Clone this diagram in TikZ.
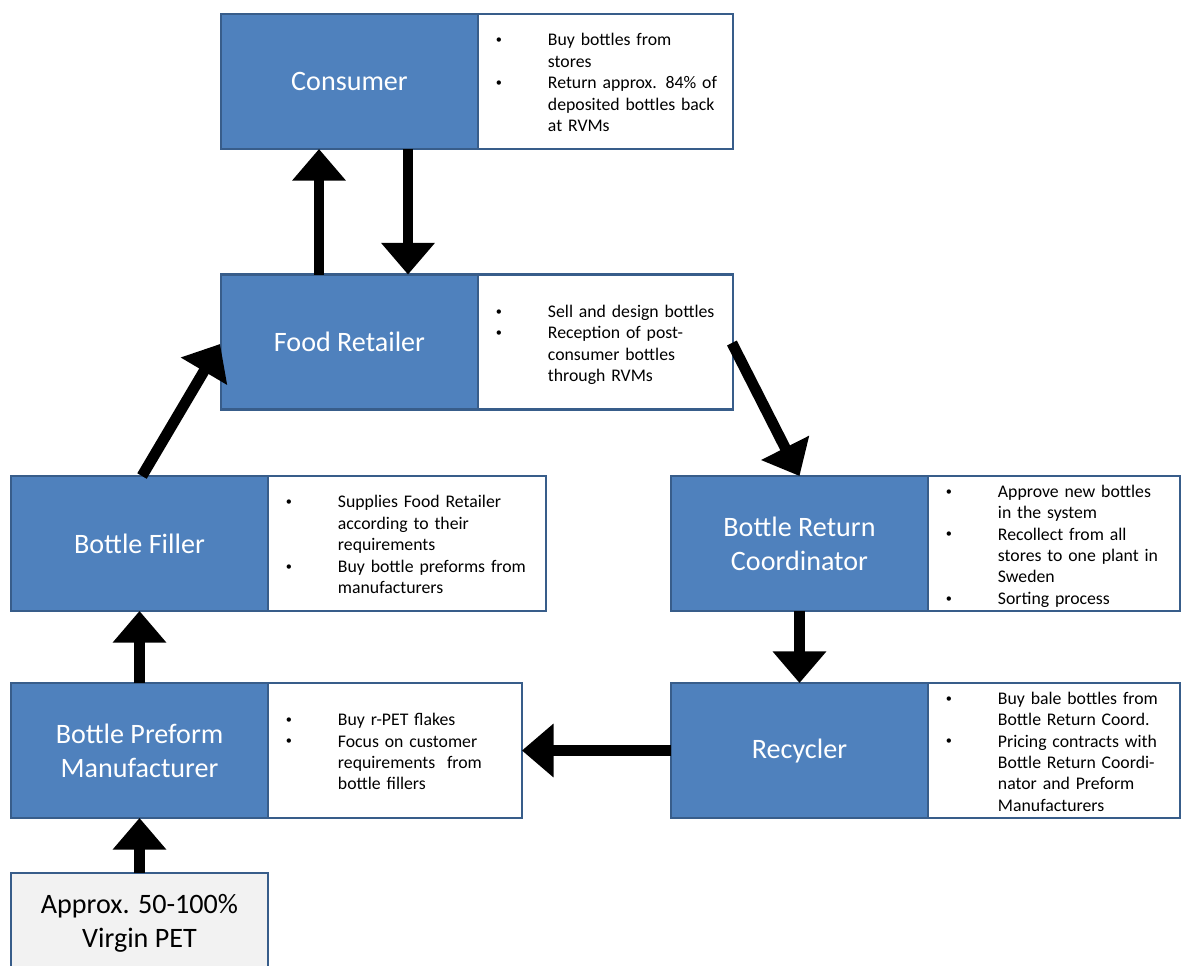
\documentclass[tikz,border=0pt]{standalone}
\usepackage{fontspec}
\setmainfont{Carlito}
\usetikzlibrary{arrows.meta}
\definecolor{boxblue}{HTML}{4F81BD}
\definecolor{edgeblue}{HTML}{385D8A}
\definecolor{lightgray}{HTML}{F2F2F2}
\newcommand{\bul}{\makebox[1.02cm][l]{\hspace{-0.02cm}\raisebox{1.2pt}{\fontsize{7}{7}\selectfont\textbullet}}}
\newcommand{\infolist}[1]{\fontsize{10.1}{12.2}\selectfont
  \raisebox{-0.06cm}[\height][\depth]{\begin{tabular}{@{\hspace{0.38cm}}l@{}l@{}}#1\end{tabular}}}
\tikzset{
  actor/.style={draw=edgeblue, line width=1.2pt, fill=boxblue, text=white,
    minimum width=5.14cm, minimum height=2.7cm, inner sep=0pt, outer sep=0pt,
    align=center, font=\fontsize{16}{19.3}\selectfont},
  info/.style={draw=edgeblue, line width=1.2pt, fill=white, anchor=west,
    minimum height=2.7cm, inner sep=0pt, outer sep=0pt, align=left},
  flow/.style={line width=6.2pt, -{Triangle[width=29.5pt, length=18pt]}}
}
\begin{document}
\begin{tikzpicture}[x=0.02cm, y=-0.02cm]
      \useasboundingbox (0,0) rectangle (1181,965);
      \node[actor] (consumer) at (349.5,81.5) {Consumer};
      \node[info, text width=5.1cm] (consumerinfo) at (consumer.east)
        {\infolist{\bul & Buy bottles from\\ & stores\\
          \bul & Return approx. 84\% of\\ & deposited bottles back\\ & at RVMs}};
      \node[actor] (retailer) at (349.5,342) {Food Retailer};
      \node[info, text width=5.1cm] (retailerinfo) at (retailer.east)
        {\infolist{\bul & Sell and design bottles\\
          \bul & Reception of post-\\ & consumer bottles\\ & through RVMs}};
      \node[actor] (filler) at (139.5,543.5) {Bottle Filler};
      \node[info, text width=5.56cm] (fillerinfo) at (filler.east)
        {\infolist{\bul & Supplies Food Retailer\\ & according to their\\ & requirements\\
          \bul & Buy bottle preforms from\\ & manufacturers}};
      \node[actor] (coordinator) at (799.5,543.5) {Bottle Return\\Coordinator};
      \node[info, text width=5.04cm] (coordinatorinfo) at (coordinator.east)
        {\infolist{\bul & Approve new bottles\\ & in the system\\
          \bul & Recollect from all\\ & stores to one plant in\\ & Sweden\\
          \bul & Sorting process}};
      \node[actor] (preform) at (139.5,750.5) {Bottle Preform\\Manufacturer};
      \node[info, text width=5.08cm] (preforminfo) at (preform.east)
        {\infolist{\bul & Buy r-PET flakes\\
          \bul & Focus on customer\\ & requirements\ \ from\\ & bottle fillers}};
      \node[actor] (recycler) at (799.5,750.5) {Recycler};
      \node[info, text width=5.04cm] (recyclerinfo) at (recycler.east)
        {\infolist{\bul & Buy bale bottles from\\ & Bottle Return Coord.\\
          \bul & Pricing contracts with\\ & Bottle Return Coordi-\\
          & nator and Preform\\ & Manufacturers}};
      \node[actor, fill=lightgray, text=black, minimum height=2cm] (virgin) at (139.5,923)
        {Approx. 50-100\%\\Virgin PET};
      \begin{scope}[flow]
        \draw ([xshift=-0.61cm]retailer.north) to ([xshift=-0.61cm]consumer.south);
        \draw ([xshift=1.17cm]consumer.south) to ([xshift=1.17cm]retailer.north);
        \draw ([xshift=0.05cm]filler.north) to ([shift={(-0.02cm,-0.04cm)}]retailer.west);
        \draw ([shift={(-0.02cm,-0.02cm)}]retailerinfo.east) to (coordinator.north);
        \draw (coordinator.south) to (recycler.north);
        \draw (recycler.west) to (preforminfo.east);
        \draw (preform.north) to (filler.south);
        \draw (virgin.north) to (preform.south);
      \end{scope}
    \end{tikzpicture}
\end{document}
